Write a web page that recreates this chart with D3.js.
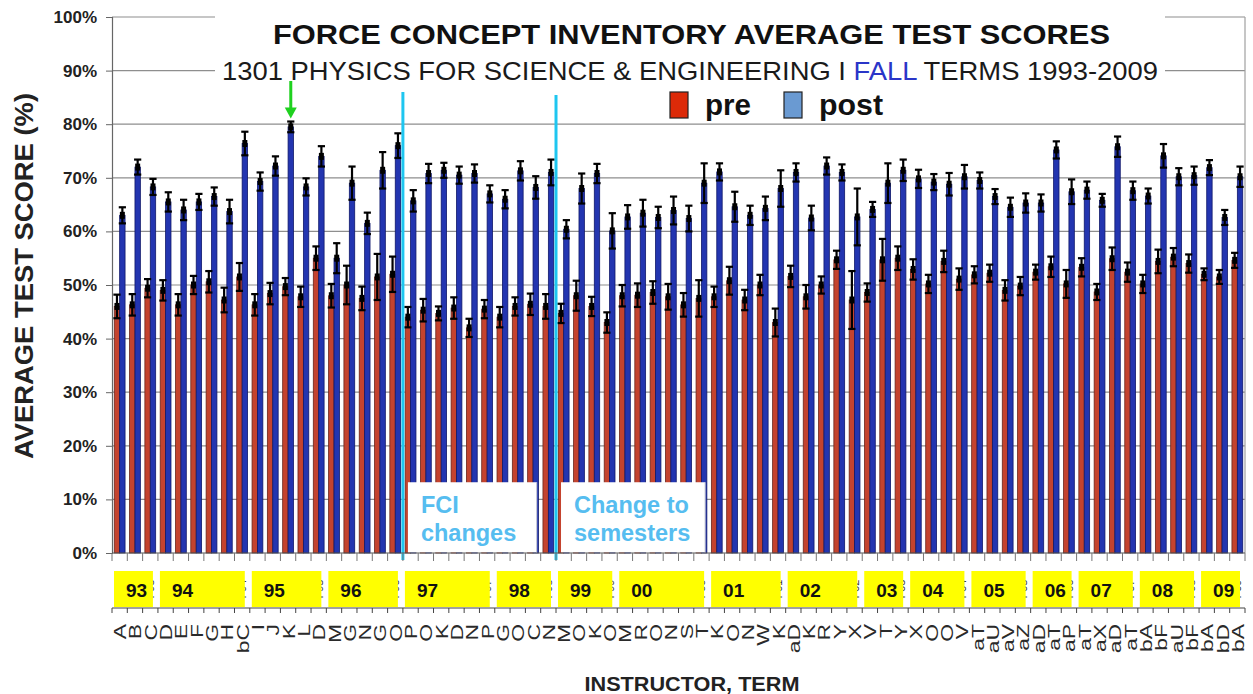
<!DOCTYPE html>
<html>
<head>
<meta charset="utf-8">
<script src="https://cdn.jsdelivr.net/npm/d3@7"></script>
<style>
  html, body { margin: 0; padding: 0; background: #fff; }
  svg { display: block; font-family: "Liberation Sans", Arial, Helvetica, sans-serif; }
</style>
</head>
<body>
<svg id="chart" width="1253" height="694"></svg>
<script>
// Instructor codes, one per fall term section
const instructors = [
  "A","B","C","D","E","F","G","H","bC","I","J","K","L","D","M","G","N","G","O",
  "P","O","K","D","N","P","G","O","C","N","M","O","K","O","M","R","O","N","S",
  "T","K","O","N","W","K","aD","K","R","Y","X","V","T","Y","X","O","O","V","aT",
  "aU","aV","aZ","aD","aT","aP","aT","aX","aD","aT","bA","bF","aU","bF","bA","bD","bA"
];

// Average FCI scores (%) before and after the course
const preScores = [
  46,46.3,49.4,49,46.3,50,50.6,47.2,51.5,46.3,48.4,49.7,47.8,55,48,50,47.5,51.5,52,
  44,45.3,44.7,45.7,42,45.5,44,46,46.4,46,44.7,48,46,43,48,48.1,48.6,47.8,46.3,
  47.5,47.8,50.8,47.2,50,43,51.6,47.8,50,54.7,47.2,48.6,54.7,55,52.9,50.2,54.4,51.1,51.9,
  52.2,49,49.8,52.4,53.4,50.2,53.3,48.7,54.9,52.4,50.2,54.4,55.2,54,52,51.5,54.6
];
const postScores = [
  63,72,68.3,65.5,64,65.5,66.5,63.7,76.4,69.3,72.2,79.5,68.3,74,55,69,61.5,71.4,76,
  65.7,70.8,71.4,70.5,70.8,67,66,71.3,68.2,71,60.4,68,70.8,60.1,62.7,63.4,62.6,63.9,62.4,
  69,71.1,64.6,63,64.3,68,71,62.5,72.2,71,62.7,64.1,69,71.4,69.8,69.2,68.8,70.2,69.5,
  66.5,64.5,65.3,65.3,75.2,67.4,67.7,65.8,75.8,67.6,66.6,74.1,70.2,70.4,71.9,62.6,70.2
];

// Error bar half-widths (%)
const preErr = [
  2.2,2,1.7,1.9,2,1.7,2,2.3,2.6,2,2,1.6,1.9,2.2,2.2,3.6,2.2,4.3,3.3,
  1.9,2.1,1.3,2,1.7,1.7,1.9,1.7,2,2.3,1.8,2.8,1.8,1.9,2,2.2,2.1,2.4,2.2,
  3.4,1.9,2.6,1.9,1.9,2.6,2,2.2,1.6,1.7,5.4,1.7,3.9,2.2,1.9,1.7,2,2,1.6,
  1.6,1.9,1.7,1.4,1.9,2.6,1.7,1.5,2.1,1.8,1.7,2.2,1.7,1.7,1.1,1.3,1.4
];
const postErr = [
  1.5,1.4,1.5,1.8,1.9,1.5,1.7,2.2,2.2,1.7,1.8,1,1.6,1.9,2.8,3.1,2,3.4,2.3,
  2,1.8,1.4,1.6,1.7,1.6,1.7,1.8,2.1,2.4,1.7,2.8,1.8,3.3,2.2,2.5,2,2.6,2.4,
  3.7,1.6,2.8,1.8,2.2,3.4,1.7,2.3,1.6,1.5,5.3,1.4,3.7,2,1.7,1.5,2.1,2.2,1.5,
  1.4,1.8,1.8,1.6,1.6,2.3,1.6,1.2,1.9,1.7,1.4,2.2,1.6,1.7,1.4,1.4,1.9
];

// Fall terms and how many sections each one has
const years = ["93","94","95","96","97","98","99","00","01","02","03","04","05","06","07","08","09"];
const yearSizes = [3,6,5,5,6,4,4,6,5,5,3,4,4,3,4,4,3];

const yTicks = [0,10,20,30,40,50,60,70,80,90,100];

// Section index where each annotation starts / ends
const fciChangeAt = 19;
const semesterChangeAt = 29;
const highlighted = 11;

const titleText = "FORCE CONCEPT INVENTORY AVERAGE TEST SCORES";
const subtitleParts = [
  {t: "1301 PHYSICS FOR SCIENCE & ENGINEERING I ", c: "#1a1a1a"},
  {t: "FALL", c: "#2a35c8"},
  {t: " TERMS 1993-2009", c: "#1a1a1a"}
];

// ---------------------------------------------------------------
const svg = d3.select("#chart");
const n = instructors.length;

const x = d3.scaleBand().domain(d3.range(n)).range([112, 1245]).padding(0);
const y = d3.scaleLinear().domain([0, 100]).range([553, 17]);
const bw = x.bandwidth();
const cx = i => x(i) + bw / 2;
const edge = i => (i >= n ? x.range()[1] : x(i));
const barW = 5.4;

// gridlines
svg.append("g").selectAll("line").data(yTicks.filter(d => d > 0)).join("line")
  .attr("x1", 112).attr("x2", 1245)
  .attr("y1", d => y(d)).attr("y2", d => y(d))
  .attr("stroke", "#8e8e8e").attr("stroke-width", 1.2);

// right border of plot
svg.append("line").attr("x1", 1245).attr("x2", 1245).attr("y1", y(100)).attr("y2", y(0))
  .attr("stroke", "#a0a0a0").attr("stroke-width", 1.2);

// bars
const bars = svg.append("g");
bars.selectAll("rect.pre").data(preScores).join("rect").attr("class", "pre")
  .attr("x", (d, i) => cx(i) - barW).attr("width", barW)
  .attr("y", d => y(d)).attr("height", d => y(0) - y(d))
  .attr("fill", "#c4432e").attr("stroke", "#6a261c").attr("stroke-width", 0.8);
bars.selectAll("rect.post").data(postScores).join("rect").attr("class", "post")
  .attr("x", (d, i) => cx(i)).attr("width", barW)
  .attr("y", d => y(d)).attr("height", d => y(0) - y(d))
  .attr("fill", "#2335b0").attr("stroke", "#10186a").attr("stroke-width", 0.8);

// error bars
function errorBars(vals, errs, off) {
  const g = svg.append("g").attr("stroke", "#000");
  vals.forEach((v, i) => {
    const xc = cx(i) + off;
    const y1 = y(v + errs[i]), y2 = y(v - errs[i]);
    g.append("line").attr("x1", xc).attr("x2", xc).attr("y1", y1).attr("y2", y2).attr("stroke-width", 2.2);
    g.append("line").attr("x1", xc - 3.6).attr("x2", xc + 3.6).attr("y1", y1).attr("y2", y1).attr("stroke-width", 2.2);
    g.append("line").attr("x1", xc - 3.6).attr("x2", xc + 3.6).attr("y1", y2).attr("y2", y2).attr("stroke-width", 2.2);
    g.append("line").attr("x1", xc).attr("x2", xc).attr("y1", y(v) - 3.5).attr("y2", y(v) + 3.5).attr("stroke-width", 5);
  });
}
errorBars(preScores, preErr, -barW / 2);
errorBars(postScores, postErr, barW / 2);

// annotation boxes at the bottom of the plot
const noteColor = "#56bdf0";
function noteBox(i0, i1, l0, l1) {
  const x0 = edge(i0) + 5, x1 = edge(i1) - 4;
  svg.append("rect").attr("x", x0).attr("y", y(13.2)).attr("width", x1 - x0).attr("height", y(0) - y(13.2) - 0.5)
    .attr("fill", "#fff");
  svg.append("line").attr("x1", x1).attr("x2", x1).attr("y1", y(13.2)).attr("y2", y(0))
    .attr("stroke", "#c8c8d0").attr("stroke-width", 1);
  const t = svg.append("text").attr("font-weight", "bold").attr("font-size", 23.5).attr("fill", noteColor);
  t.append("tspan").attr("x", x0 + 13).attr("y", 513).text(l0);
  t.append("tspan").attr("x", x0 + 13).attr("y", 541).text(l1);
}
noteBox(fciChangeAt, 28, "FCI", "changes");
noteBox(semesterChangeAt, 39, "Change to", "semesters");

// vertical markers
svg.append("line").attr("x1", edge(fciChangeAt)).attr("x2", edge(fciChangeAt))
  .attr("y1", 92).attr("y2", 560).attr("stroke", "#1ec6f0").attr("stroke-width", 3);
svg.append("line").attr("x1", edge(semesterChangeAt)).attr("x2", edge(semesterChangeAt))
  .attr("y1", 95).attr("y2", 560).attr("stroke", "#1ec6f0").attr("stroke-width", 3);

// y axis
const yAxis = svg.append("g").attr("transform", "translate(112,0)")
  .call(d3.axisLeft(y).tickValues(yTicks).tickSize(6).tickPadding(9).tickFormat(d => d + "%"));
yAxis.select(".domain").attr("stroke", "#666").attr("stroke-width", 1.2);
yAxis.selectAll(".tick line").attr("stroke", "#666");
yAxis.selectAll("text").attr("font-size", 17).attr("font-weight", "bold").attr("fill", "#222")
  .attr("font-family", "'Liberation Sans', Arial, sans-serif");

// category baseline with tick marks
svg.append("line").attr("x1", 112).attr("x2", 1245).attr("y1", y(0)).attr("y2", y(0))
  .attr("stroke", "#555").attr("stroke-width", 1.2);
svg.append("g").selectAll("line").data(d3.range(n + 1)).join("line")
  .attr("x1", d => edge(d)).attr("x2", d => edge(d)).attr("y1", y(0)).attr("y2", y(0) + 8)
  .attr("stroke", "#777").attr("stroke-width", 1);

// term codes under the baseline (mostly hidden by the year tags)
const yearOf = [];
yearSizes.forEach((s, k) => { for (let j = 0; j < s; j++) yearOf.push(years[k]); });
svg.append("g").selectAll("text").data(yearOf).join("text")
  .attr("transform", (d, i) => `translate(${cx(i) + 4},589) rotate(-90)`)
  .attr("text-anchor", "middle").attr("font-size", 11).attr("fill", "#333")
  .text(d => "F" + d);

// year tags
let start = 0;
const tags = svg.append("g");
yearSizes.forEach((s, k) => {
  const x0 = edge(start) + 2, x1 = edge(start + s) - 5;
  tags.append("rect").attr("x", x0).attr("y", 571).attr("width", x1 - x0).attr("height", 36).attr("fill", "#ffff00");
  tags.append("text").attr("x", x0 + 12).attr("y", 597).attr("font-size", 19).attr("font-weight", "bold")
    .attr("fill", "#111").text(years[k]);
  start += s;
});

// lower category axis with instructor codes
svg.append("line").attr("x1", 112).attr("x2", 1245).attr("y1", 608).attr("y2", 608)
  .attr("stroke", "#444").attr("stroke-width", 1.2);
svg.append("g").selectAll("line").data(d3.range(n + 1)).join("line")
  .attr("x1", d => edge(d)).attr("x2", d => edge(d)).attr("y1", 608).attr("y2", 613)
  .attr("stroke", "#444").attr("stroke-width", 1);
svg.append("g").selectAll("text").data(instructors).join("text")
  .attr("transform", (d, i) => `translate(${cx(i) + 6.5},624) rotate(-90) scale(1.35,1)`)
  .attr("text-anchor", "end").attr("font-size", 17).attr("fill", "#2a2a2a")
  .text(d => d);

// axis titles
svg.append("text").attr("transform", "translate(33,276) rotate(-90)")
  .attr("text-anchor", "middle").attr("font-size", 25).attr("font-weight", "bold").attr("fill", "#222")
  .attr("textLength", 366).attr("lengthAdjust", "spacingAndGlyphs")
  .text("AVERAGE TEST SCORE (%)");
svg.append("text").attr("x", 692).attr("y", 691).attr("text-anchor", "middle")
  .attr("font-size", 21).attr("font-weight", "bold").attr("fill", "#222")
  .attr("textLength", 215).attr("lengthAdjust", "spacingAndGlyphs")
  .text("INSTRUCTOR, TERM");

// title block
svg.append("rect").attr("x", 215).attr("y", 4).attr("width", 950).attr("height", 81).attr("fill", "#fff");
svg.append("text").attr("x", 273).attr("y", 44).attr("font-size", 28).attr("font-weight", "bold").attr("fill", "#111")
  .attr("textLength", 837).attr("lengthAdjust", "spacingAndGlyphs").text(titleText);
const sub = svg.append("text").attr("x", 222).attr("y", 80).attr("font-size", 25)
  .attr("textLength", 936).attr("lengthAdjust", "spacingAndGlyphs");
subtitleParts.forEach(p => sub.append("tspan").attr("fill", p.c).text(p.t));

// legend
const legend = [
  {label: "pre", fill: "#dc2a08", x: 670, w: 46},
  {label: "post", fill: "#6a9ad2", x: 784, w: 64}
];
legend.forEach(d => {
  svg.append("rect").attr("x", d.x).attr("y", 92).attr("width", 18).attr("height", 26)
    .attr("fill", d.fill).attr("stroke", "#222").attr("stroke-width", 1.2);
  svg.append("text").attr("x", d.x + 35).attr("y", 115).attr("font-size", 30).attr("font-weight", "bold")
    .attr("fill", "#111").attr("textLength", d.w).attr("lengthAdjust", "spacingAndGlyphs").text(d.label);
});

// arrow to the highest post-test score
const ax = cx(highlighted) + barW / 2;
const tipY = y(postScores[highlighted] + postErr[highlighted]) - 3;
svg.append("line").attr("x1", ax).attr("x2", ax).attr("y1", 81).attr("y2", tipY - 8)
  .attr("stroke", "#1fd11f").attr("stroke-width", 3);
svg.append("path").attr("d", `M${ax - 6},${tipY - 11} L${ax + 6},${tipY - 11} L${ax},${tipY} Z`).attr("fill", "#1fd11f");
</script>
</body>
</html>
